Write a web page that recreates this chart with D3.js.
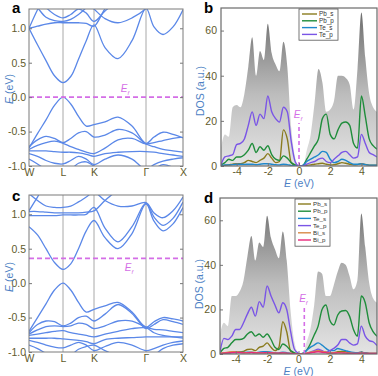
<!DOCTYPE html>
<html>
<head>
<meta charset="utf-8">
<script src="https://cdn.jsdelivr.net/npm/d3@7"></script>
<style>
  body { margin: 0; background: #fff; }
  text { font-family: "Liberation Sans", Arial, sans-serif; }
</style>
</head>
<body>
<script>
// ---- band structure data (k path coordinate, energies in eV) ----
const kPoints = [0, 34, 65, 117, 154]
const kLabels = ["W", "L", "K", "\u0393", "X"]
const kGrid = [0, 8.5, 17, 25.5, 34, 41.75, 49.5, 57.25, 65, 76, 89, 103, 117, 125, 134, 144, 154]

const bandsA = [
  [1.0, 0.76, 0.53, 0.31, 0.21, 0.3, 0.55, 0.82, 1.05, 0.72, 0.56, 0.82, 1.29, 1.02, 0.91, 1.02, 1.27],
  [1.0, 1.03, 1.06, 1.08, 1.08, 1.08, 1.08, 1.07, 1.03, 1.28, 1.45, 1.6, 1.7, 1.7, 1.7, 1.7, 1.7],
  [1.6, 1.6, 1.6, 1.6, 1.6, 1.55, 1.45, 1.38, 1.28, 1.14, 1.08, 1.15, 1.29, 1.45, 1.55, 1.5, 1.4],
  [1.0, 1.27, 1.5, 1.6, 1.6, 1.6, 1.6, 1.6, 1.6, 1.6, 1.6, 1.6, 1.6, 1.6, 1.6, 1.6, 1.6],
  [1.45, 1.3, 1.16, 1.11, 1.1, 1.13, 1.2, 1.3, 1.4, 1.5, 1.6, 1.6, 1.6, 1.6, 1.6, 1.6, 1.6],
  [1.55, 1.42, 1.3, 1.2, 1.15, 1.2, 1.28, 1.22, 1.1, 1.25, 1.4, 1.5, 1.6, 1.6, 1.6, 1.6, 1.6],
  [-0.74, -0.53, -0.33, -0.12, 0.0, -0.1, -0.28, -0.42, -0.40, -0.36, -0.29, -0.42, -0.67, -0.58, -0.51, -0.54, -0.59],
  [-0.72, -0.62, -0.57, -0.6, -0.66, -0.6, -0.52, -0.5, -0.58, -0.55, -0.47, -0.52, -0.68, -0.72, -0.76, -0.78, -0.8],
  [-0.76, -0.7, -0.66, -0.64, -0.67, -0.72, -0.76, -0.8, -0.82, -0.74, -0.62, -0.6, -0.68, -0.66, -0.63, -0.6, -0.58],
  [-0.78, -0.78, -0.78, -0.79, -0.8, -0.8, -0.81, -0.83, -0.86, -0.82, -0.8, -0.79, -0.79, -0.8, -0.82, -0.84, -0.86],
  [-0.82, -0.86, -0.92, -0.96, -0.97, -0.92, -0.86, -0.9, -0.98, -0.9, -0.84, -0.9, -1.05, -0.98, -0.93, -0.9, -0.88],
  [-0.9, -0.97, -1.05, -1.1, -1.1, -1.05, -0.96, -0.94, -1.0, -1.08, -1.12, -1.12, -1.15, -1.05, -0.98, -1.02, -1.1],
]

const bandsC = [
  [0.82, 0.7, 0.5, 0.3, 0.2, 0.28, 0.5, 0.76, 0.91, 0.66, 0.5, 0.72, 1.15, 0.9, 0.76, 0.86, 1.1],
  [0.98, 0.98, 0.98, 0.98, 0.99, 0.99, 0.99, 1.0, 1.1, 0.8, 0.6, 0.82, 1.16, 0.96, 0.84, 0.94, 1.18],
  [1.04, 1.04, 1.03, 1.02, 1.02, 1.02, 1.02, 1.03, 1.05, 1.2, 1.35, 1.45, 1.5, 1.5, 1.5, 1.5, 1.5],
  [1.3, 1.2, 1.12, 1.1, 1.1, 1.12, 1.18, 1.25, 1.32, 1.2, 1.12, 1.12, 1.17, 1.02, 0.95, 1.05, 1.25],
  [1.05, 1.25, 1.45, 1.55, 1.55, 1.55, 1.5, 1.4, 1.3, 1.4, 1.5, 1.5, 1.5, 1.5, 1.5, 1.5, 1.5],
  [-0.7, -0.5, -0.3, -0.1, 0.0, -0.1, -0.28, -0.42, -0.38, -0.33, -0.28, -0.42, -0.64, -0.56, -0.5, -0.52, -0.55],
  [-0.72, -0.6, -0.55, -0.56, -0.62, -0.58, -0.5, -0.48, -0.55, -0.45, -0.31, -0.44, -0.66, -0.6, -0.53, -0.56, -0.6],
  [-0.74, -0.68, -0.63, -0.62, -0.63, -0.62, -0.58, -0.6, -0.66, -0.62, -0.55, -0.55, -0.64, -0.67, -0.68, -0.7, -0.72],
  [-0.76, -0.74, -0.72, -0.7, -0.69, -0.72, -0.74, -0.76, -0.78, -0.74, -0.7, -0.66, -0.65, -0.72, -0.76, -0.78, -0.8],
  [-0.8, -0.8, -0.8, -0.8, -0.81, -0.82, -0.83, -0.85, -0.88, -0.82, -0.8, -0.79, -0.78, -0.78, -0.78, -0.78, -0.78],
  [-0.83, -0.86, -0.9, -0.93, -0.94, -0.9, -0.86, -0.9, -0.98, -0.92, -0.86, -0.9, -0.98, -0.95, -0.9, -0.86, -0.84],
  [-0.9, -0.95, -1.02, -1.08, -1.1, -1.05, -0.96, -0.92, -0.9, -0.98, -1.06, -1.1, -1.12, -1.05, -0.95, -0.9, -0.88],
]

const bandTicks = [-1.0, -0.5, 0.0, 0.5, 1.0]
const fermiA = 0
const fermiC = 0.36

// ---- DOS data ----
const dosEnergy = [-5, -4.75, -4.5, -4.25, -4, -3.75, -3.5, -3.25, -3, -2.75, -2.5, -2.25, -2, -1.75, -1.5, -1.25, -1, -0.75, -0.5, -0.25,
  0, 0.25, 0.5, 0.75, 1, 1.25, 1.5, 1.75, 2, 2.25, 2.5, 2.75, 3, 3.25, 3.5, 3.75, 4, 4.25, 4.5, 4.75, 5]

const totalB = [8, 14, 13, 26, 27, 26, 32, 44, 57, 40, 51, 47, 63, 50, 45, 42, 55, 44, 17, 4, 0, 0, 7, 14, 28, 43, 37, 24, 25, 29, 40, 40, 39, 36, 25, 43, 68, 48, 32, 26, 24]
const pbSB = [0, 0.3, 0.5, 0.8, 1, 1, 1.5, 2.5, 2, 1.5, 2.5, 3.5, 5.5, 3.5, 1.5, 2, 16, 12, 1.5, 0.3, 0, 0, 0.3, 0.5, 0.8, 1, 1.2, 0.8, 0.5, 0.6, 1, 1.5, 1.2, 0.8, 0.5, 0.6, 1, 0.7, 0.4, 0.3, 0.3]
const pbPB = [0.5, 1.5, 3, 2.5, 4, 4, 5, 7, 10, 6, 8.5, 7, 9, 5, 3, 2.5, 4.5, 3.5, 1.5, 0.5, 0, 0.3, 3, 6, 9, 12, 21, 23, 14, 12, 16, 19, 19.5, 18, 10, 8, 31, 22, 12, 9, 7.5]
const teSB = [0.2, 0.5, 0.5, 0.6, 0.8, 0.8, 0.7, 0.8, 0.8, 0.6, 0.8, 1, 1, 0.8, 0.6, 0.5, 0.8, 0.6, 0.3, 0.1, 0, 0.3, 2, 3, 4, 5, 6.5, 6, 3, 1.5, 2, 3, 2.5, 1.5, 0.8, 0.8, 1, 0.6, 0.4, 0.3, 0.3]
const tePB = [0.5, 4, 4.5, 5, 9.5, 10, 12, 18, 24, 18, 23, 21, 31, 24, 21, 19.5, 26, 24, 11, 2, 0, 0, 0.8, 1.5, 2, 3, 3.5, 2, 1.5, 3, 4.5, 6, 6.5, 5, 3.5, 4, 14, 10, 6, 5, 4]

const totalD = [9, 14, 12.5, 26, 26, 28, 33, 44, 53, 42, 50, 48, 62, 52, 47, 43, 55, 42, 19, 5, 0.5, 0, 5, 11, 22, 37, 36, 26, 26, 31, 37, 41, 40, 35, 29, 33, 63, 48, 32, 25, 23]
const pbSD = [0, 0.3, 0.5, 0.8, 1, 1, 1.2, 2, 2.2, 1.5, 3, 3.5, 5, 3, 1.5, 3, 14.5, 10, 1.2, 0.3, 0, 0, 0.3, 0.6, 1, 1.5, 1.2, 0.8, 0.5, 0.6, 1, 1.2, 1, 0.6, 0.4, 0.5, 0.8, 0.5, 0.3, 0.3, 0.2]
const pbPD = [0.5, 2.5, 3, 5, 6.5, 6.5, 7, 9, 10, 8, 9, 7.5, 9, 6.5, 3, 2, 4.5, 3.5, 1.5, 0.5, 0, 0.3, 1.5, 4.5, 8.5, 12.5, 20, 22, 15, 13, 17.5, 19.3, 19.5, 17, 11, 8, 26, 23, 14, 10, 8]
const teSD = [0.2, 0.5, 0.5, 0.6, 0.8, 0.8, 0.7, 0.8, 0.8, 0.6, 0.8, 1, 1, 0.8, 0.6, 0.5, 0.8, 0.6, 0.3, 0.1, 0, 0.1, 1.5, 3, 4, 5, 4, 2.5, 1.5, 1.5, 2.5, 2, 1.5, 1, 0.7, 0.6, 0.8, 0.5, 0.3, 0.3, 0.3]
const tePD = [1, 7, 6.5, 8, 11, 11, 14, 18, 21, 17, 23.5, 21, 30.5, 26, 22, 18.5, 23, 20, 10, 2, 0.3, 0, 0.3, 0.8, 1.5, 2.2, 1.5, 0.8, 1.5, 2.5, 4, 6.5, 6.5, 5, 4, 4.5, 12.5, 8, 6, 5.5, 3.8]
const biSD = [0.3, 0.6, 0.8, 1, 1, 0.8, 0.6, 0.6, 0.8, 0.6, 0.5, 0.5, 0.6, 0.5, 0.4, 0.3, 0.4, 0.3, 0.2, 0.1, 0, 0, 0.3, 0.8, 1.2, 1.5, 1.2, 0.8, 0.5, 0.5, 0.6, 0.5, 0.4, 0.4, 0.3, 0.3, 0.5, 0.3, 0.2, 0.2, 0.2]
const biPD = [0.2, 0.4, 0.5, 0.6, 0.7, 0.6, 0.5, 0.5, 0.6, 0.5, 0.5, 0.5, 0.6, 0.5, 0.4, 0.4, 0.5, 0.4, 0.2, 0.1, 0, 0, 0.3, 0.6, 0.8, 1.0, 0.8, 0.6, 0.4, 0.4, 0.5, 0.5, 0.4, 0.3, 0.3, 0.3, 0.4, 0.3, 0.2, 0.2, 0.2]

const dosTicksY = [0, 20, 40, 60]
const dosTicksX = [-4, -2, 0, 2, 4]
const fermiDosB = 0, fermiLineB = 19
const fermiDosD = 0.37, fermiLineD = 21

const seriesNames = ["Pb_s", "Pb_p", "Te_s", "Te_p", "Bi_s", "Bi_p"]
const seriesColors = ["#8a7b1e", "#1f8d3b", "#1e88cc", "#7a55e6", "#d98a48", "#e8287a"]

// ---- style ----
const bandColor = "#5b88e8"
const efColor = "#d46ee6"
const tickColor = "#5f5b2c"
const labelBlue = "#4d7fc4"

const svg = d3.select("body").append("svg")
  .attr("width", 378)
  .attr("height", 376)

const defs = svg.append("defs")

function efText(g, x, y, size) {
  const t = g.append("text")
    .attr("x", x).attr("y", y)
    .attr("text-anchor", "middle")
    .attr("fill", efColor)
    .style("font-size", size + "px")
    .style("font-style", "italic")
  t.append("tspan").text("E")
  t.append("tspan").attr("dy", size * 0.3).style("font-size", (size * 0.6) + "px").text("f")
}

function panelLetter(x, y, s) {
  svg.append("text").attr("x", x).attr("y", y)
    .style("font-size", "15px").style("font-weight", "bold")
    .attr("fill", "#000").text(s)
}

function drawBands(id, box, bands, ef, efLabel, labelY) {
  const xScale = d3.scaleLinear().domain([0, 154]).range([box.left, box.right])
  const yScale = d3.scaleLinear().domain([-1, 1.28]).range([box.bottom, box.top])

  defs.append("clipPath").attr("id", id)
    .append("rect")
    .attr("x", box.left).attr("y", box.top)
    .attr("width", box.right - box.left).attr("height", box.bottom - box.top)

  const g = svg.append("g")

  // high symmetry lines
  g.selectAll(".kline").data(kPoints.slice(1, -1)).join("line")
    .attr("x1", d => xScale(d)).attr("x2", d => xScale(d))
    .attr("y1", box.top).attr("y2", box.bottom)
    .attr("stroke", "#a8a8a8").attr("stroke-width", 1)

  const line = d3.line()
    .x((d, i) => xScale(kGrid[i]))
    .y(d => yScale(d))
    .curve(d3.curveCatmullRom.alpha(0.5))

  g.append("g").attr("clip-path", `url(#${id})`)
    .selectAll("path").data(bands).join("path")
      .attr("d", line)
      .attr("fill", "none")
      .attr("stroke", bandColor)
      .attr("stroke-width", 1.3)

  g.append("line")
    .attr("x1", box.left).attr("x2", box.right)
    .attr("y1", yScale(ef)).attr("y2", yScale(ef))
    .attr("stroke", efColor).attr("stroke-width", 1.6)
    .attr("stroke-dasharray", "5,3")

  efText(g, xScale(efLabel[0]), yScale(efLabel[1]), 10)

  // axes
  const yAxis = g.append("g")
    .attr("transform", `translate(${box.left},0)`)
    .call(d3.axisLeft(yScale).tickValues(bandTicks).tickSizeInner(-3).tickSizeOuter(0)
      .tickPadding(3).tickFormat(d => d.toFixed(1)))
  yAxis.select(".domain").remove()
  yAxis.selectAll("line").attr("stroke", "#777")
  yAxis.selectAll("text").attr("fill", tickColor).style("font-size", "10.5px")

  const yAxisR = g.append("g")
    .attr("transform", `translate(${box.right},0)`)
    .call(d3.axisRight(yScale).tickValues(bandTicks).tickSizeInner(-3).tickSizeOuter(0).tickFormat(""))
  yAxisR.select(".domain").remove()
  yAxisR.selectAll("line").attr("stroke", "#777")

  const xAxis = g.append("g")
    .attr("transform", `translate(0,${box.bottom})`)
    .call(d3.axisBottom(xScale).tickValues(kPoints).tickSize(0).tickPadding(3)
      .tickFormat((d, i) => kLabels[i]))
  xAxis.select(".domain").remove()
  xAxis.selectAll("text").attr("fill", tickColor).style("font-size", "10.5px")

  g.append("rect")
    .attr("x", box.left).attr("y", box.top)
    .attr("width", box.right - box.left).attr("height", box.bottom - box.top)
    .attr("fill", "none").attr("stroke", "#7a7a7a").attr("stroke-width", 1)

  const lab = g.append("text")
    .attr("transform", `translate(${box.left - 16},${labelY}) rotate(-90)`)
    .attr("text-anchor", "middle")
    .attr("fill", labelBlue)
    .style("font-size", "10.5px")
  lab.append("tspan").style("font-style", "italic").text("E")
  lab.append("tspan").text(" (eV)")
}

function drawDos(id, box, total, partials, names, colors, ef, efTop, legend, labelY) {
  const xScale = d3.scaleLinear().domain([-5, 5]).range([box.left, box.right])
  const yScale = d3.scaleLinear().domain([0, 70]).range([box.bottom, box.top])

  defs.append("clipPath").attr("id", id)
    .append("rect")
    .attr("x", box.left).attr("y", box.top)
    .attr("width", box.right - box.left).attr("height", box.bottom - box.top)

  const grad = defs.append("linearGradient").attr("id", id + "g")
    .attr("gradientUnits", "userSpaceOnUse")
    .attr("x1", 0).attr("x2", 0)
    .attr("y1", yScale(70)).attr("y2", yScale(0))
  grad.append("stop").attr("offset", "0%").attr("stop-color", "#6a6a6a")
  grad.append("stop").attr("offset", "55%").attr("stop-color", "#bdbdbd")
  grad.append("stop").attr("offset", "100%").attr("stop-color", "#e4e4e4")

  const g = svg.append("g")
  const plot = g.append("g").attr("clip-path", `url(#${id})`)

  const area = d3.area()
    .x((d, i) => xScale(dosEnergy[i]))
    .y0(yScale(0))
    .y1(d => yScale(d))
    .curve(d3.curveMonotoneX)

  plot.append("path").datum(total)
    .attr("d", area)
    .attr("fill", `url(#${id}g)`)

  const line = d3.line()
    .x((d, i) => xScale(dosEnergy[i]))
    .y(d => yScale(d))
    .curve(d3.curveMonotoneX)

  plot.selectAll(".pdos").data(partials).join("path")
    .attr("d", line)
    .attr("fill", "none")
    .attr("stroke", (d, i) => colors[i])
    .attr("stroke-width", 1.4)

  g.append("line")
    .attr("x1", xScale(ef)).attr("x2", xScale(ef))
    .attr("y1", yScale(0)).attr("y2", yScale(efTop))
    .attr("stroke", efColor).attr("stroke-width", 1.6)
    .attr("stroke-dasharray", "4,3")
  efText(g, xScale(ef) - 1, yScale(efTop) - 5, 10)

  // axes
  const yAxis = g.append("g")
    .attr("transform", `translate(${box.left},0)`)
    .call(d3.axisLeft(yScale).tickValues(dosTicksY).tickSizeInner(-3).tickSizeOuter(0).tickPadding(4))
  yAxis.select(".domain").remove()
  yAxis.selectAll("line").attr("stroke", "#777")
  yAxis.selectAll("text").attr("fill", tickColor).style("font-size", "10.5px")

  const xAxis = g.append("g")
    .attr("transform", `translate(0,${box.bottom})`)
    .call(d3.axisBottom(xScale).tickValues(dosTicksX).tickSizeInner(-3).tickSizeOuter(0).tickPadding(2)
      .tickFormat(d => String(d)))
  xAxis.select(".domain").remove()
  xAxis.selectAll("line").attr("stroke", "#777")
  xAxis.selectAll("text").attr("fill", tickColor).style("font-size", "10.5px")

  g.append("rect")
    .attr("x", box.left).attr("y", box.top)
    .attr("width", box.right - box.left).attr("height", box.bottom - box.top)
    .attr("fill", "none").attr("stroke", "#6a6a6a").attr("stroke-width", 1.2)

  const xl = g.append("text")
    .attr("x", xScale(0)).attr("y", box.bottom + 21)
    .attr("text-anchor", "middle")
    .attr("fill", labelBlue)
    .style("font-size", "10.5px")
  xl.append("tspan").style("font-style", "italic").text("E")
  xl.append("tspan").text(" (eV)")

  g.append("text")
    .attr("transform", `translate(${box.left - 17},${labelY}) rotate(-90)`)
    .attr("text-anchor", "middle")
    .attr("fill", labelBlue)
    .style("font-size", "10.5px")
    .text("DOS (a.u.)")

  // legend
  const lg = g.append("g")
  lg.append("rect")
    .attr("x", legend.x).attr("y", legend.y)
    .attr("width", legend.w).attr("height", legend.step * names.length + 4)
    .attr("fill", "#fff").attr("stroke", "#555").attr("stroke-width", 0.8)
  const items = lg.selectAll(".item").data(names).join("g")
    .attr("transform", (d, i) => `translate(${legend.x + 3},${legend.y + 5 + legend.step * i})`)
  items.append("line")
    .attr("x1", 0).attr("x2", legend.line)
    .attr("y1", 0).attr("y2", 0)
    .attr("stroke", (d, i) => colors[i]).attr("stroke-width", 1.4)
  items.append("text")
    .attr("x", legend.line + 2).attr("y", legend.font * 0.35)
    .style("font-size", legend.font + "px")
    .attr("fill", "#333")
    .text(d => d)
}

drawBands("clipA", {left: 29, right: 183, top: 9, bottom: 166}, bandsA, fermiA, [96, 0.07], 89)
drawBands("clipC", {left: 29, right: 183, top: 195, bottom: 352}, bandsC, fermiC, [100, 0.17], 277)

drawDos("clipB", {left: 221, right: 377, top: 8, bottom: 166}, totalB,
  [pbSB, pbPB, teSB, tePB], seriesNames.slice(0, 4), seriesColors.slice(0, 4),
  fermiDosB, fermiLineB, {x: 299, y: 9, w: 39, step: 6.8, line: 15, font: 6.3}, 91)

drawDos("clipD", {left: 220, right: 377, top: 198, bottom: 354}, totalD,
  [pbSD, pbPD, teSD, tePD, biSD, biPD], seriesNames, seriesColors,
  fermiDosD, fermiLineD, {x: 295, y: 199, w: 35, step: 7.2, line: 13, font: 6.2}, 284)

panelLetter(12, 13, "a")
panelLetter(204, 13, "b")
panelLetter(12, 201, "c")
panelLetter(204, 203, "d")
</script>
</body>
</html>
